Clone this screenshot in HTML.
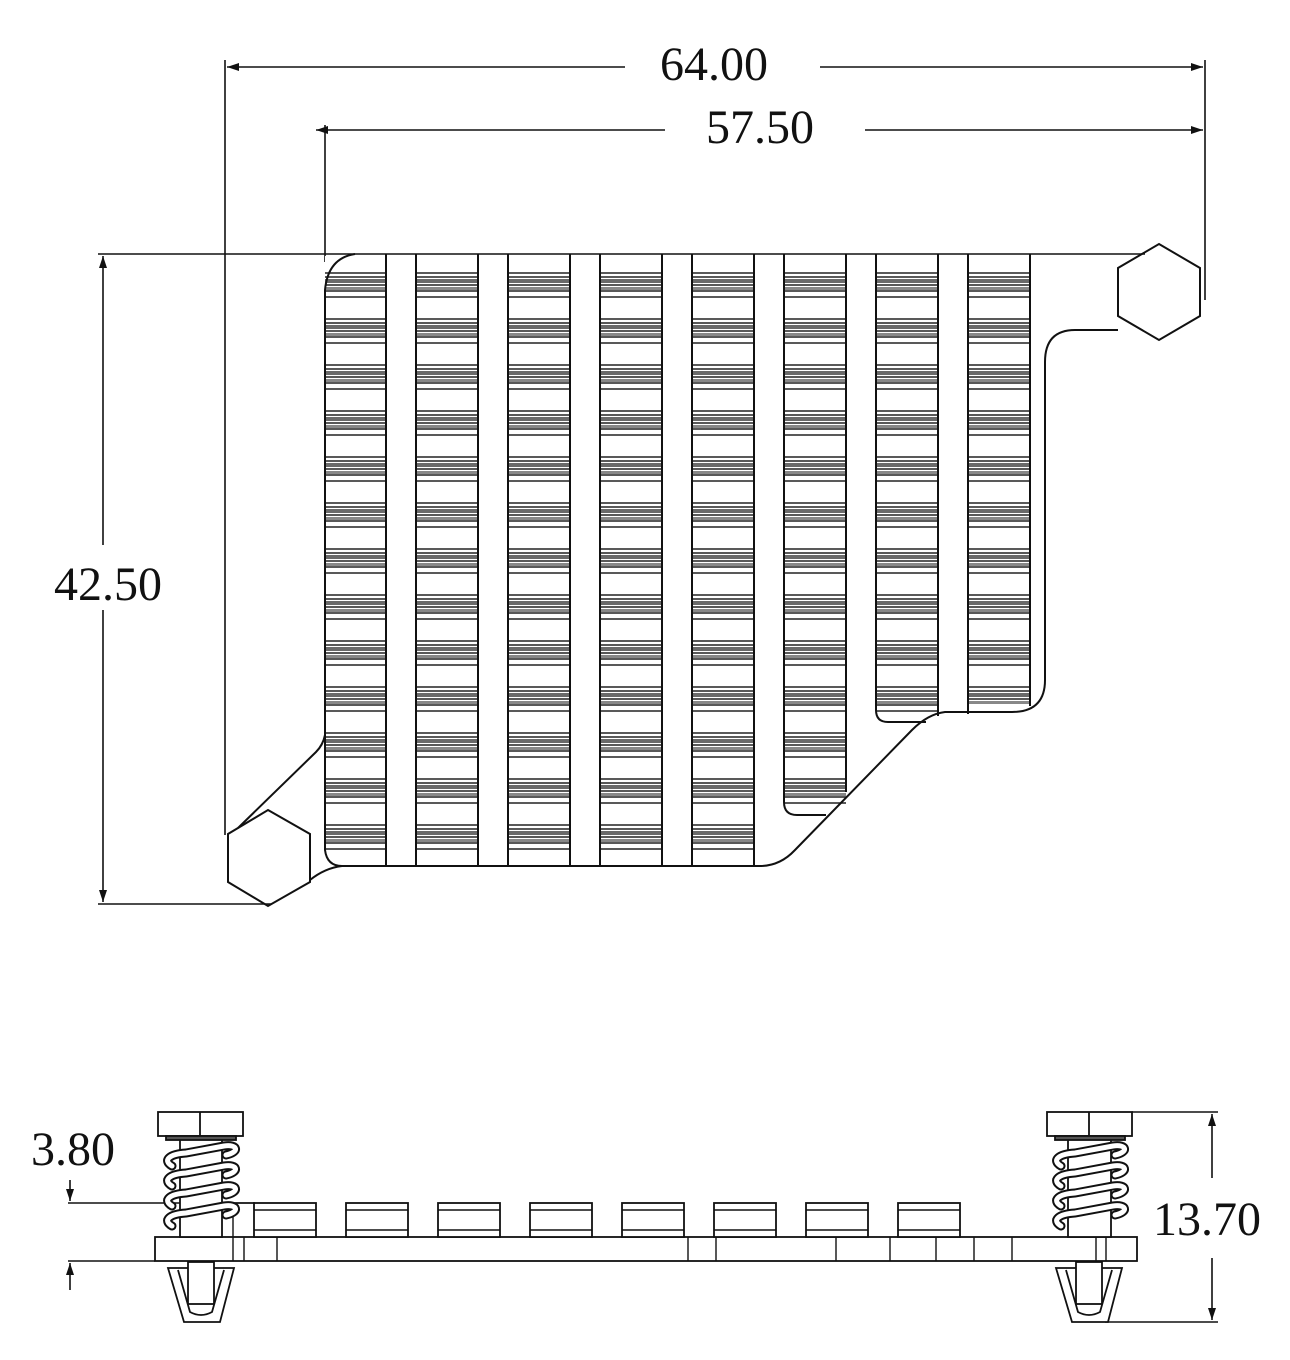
<!DOCTYPE html>
<html><head><meta charset="utf-8"><style>
html,body{margin:0;padding:0;background:#fff}
svg{display:block}
text{font-family:"Liberation Serif",serif;font-size:48px;fill:#111}
</style></head><body>
<svg width="1290" height="1360" viewBox="0 0 1290 1360" xmlns="http://www.w3.org/2000/svg">
<defs>
<pattern id="fin" patternUnits="userSpaceOnUse" x="0" y="272" width="1290" height="46">
<rect x="0" y="7" width="1290" height="4" fill="#6a6a6a"/>
<g stroke="#222" stroke-width="1.6">
<line x1="0" y1="1" x2="1290" y2="1"/>
<line x1="0" y1="5" x2="1290" y2="5"/>
<line x1="0" y1="13" x2="1290" y2="13"/>
<line x1="0" y1="19" x2="1290" y2="19"/>
<line x1="0" y1="25" x2="1290" y2="25"/>
</g>
<rect x="0" y="15" width="1290" height="3" fill="#888"/>
</pattern>
<marker id="ar" viewBox="0 0 12 8" refX="12" refY="4" markerWidth="12" markerHeight="8" orient="auto" markerUnits="userSpaceOnUse">
<path d="M0,0 L12,4 L0,8 Z" fill="#111"/>
</marker>
</defs>

<g fill="none" stroke="#111" stroke-width="1.6">
<!-- dimension lines top -->
<line x1="225" y1="60" x2="225" y2="835"/>
<line x1="1205" y1="60" x2="1205" y2="300"/>
<line x1="325" y1="125" x2="325" y2="262"/>
<line x1="625" y1="67" x2="227" y2="67" marker-end="url(#ar)"/>
<line x1="820" y1="67" x2="1203" y2="67" marker-end="url(#ar)"/>
<line x1="665" y1="130" x2="316" y2="130" marker-end="url(#ar)"/>
<line x1="865" y1="130" x2="1203" y2="130" marker-end="url(#ar)"/>
<!-- 42.50 -->
<line x1="98" y1="254" x2="1145" y2="254"/>
<line x1="98" y1="904" x2="272" y2="904"/>
<line x1="103" y1="545" x2="103" y2="256" marker-end="url(#ar)"/>
<line x1="103" y1="610" x2="103" y2="902" marker-end="url(#ar)"/>
</g>
<text x="714" y="80" text-anchor="middle">64.00</text>
<text x="760" y="143" text-anchor="middle">57.50</text>
<text x="108" y="600" text-anchor="middle">42.50</text>

<!-- fin columns fill -->
<g fill="url(#fin)">
<rect x="325" y="268" width="61" height="590"/>
<rect x="416" y="268" width="62" height="590"/>
<rect x="508" y="268" width="62" height="590"/>
<rect x="600" y="268" width="62" height="590"/>
<rect x="692" y="268" width="62" height="590"/>
<rect x="784" y="268" width="62" height="540"/>
<rect x="876" y="268" width="62" height="446"/>
<rect x="968" y="268" width="62" height="436"/>
</g>
<rect x="325" y="256" width="40" height="14" fill="#fff"/>

<g fill="none" stroke="#111" stroke-width="2">
<!-- columns -->
<path d="M355 254 Q328 258 325 290 V850 Q327 866 342 866"/>
<line x1="386" y1="254" x2="386" y2="866"/>
<line x1="416" y1="254" x2="416" y2="866"/>
<line x1="478" y1="254" x2="478" y2="866"/>
<line x1="508" y1="254" x2="508" y2="866"/>
<line x1="570" y1="254" x2="570" y2="866"/>
<line x1="600" y1="254" x2="600" y2="866"/>
<line x1="662" y1="254" x2="662" y2="866"/>
<line x1="692" y1="254" x2="692" y2="866"/>
<line x1="754" y1="254" x2="754" y2="866"/>
<path d="M784 254 V802 Q784 815 797 815 H826"/>
<line x1="846" y1="254" x2="846" y2="792"/>
<path d="M876 254 V710 Q876 722 888 722 H926"/>
<line x1="938" y1="254" x2="938" y2="716"/>
<line x1="968" y1="254" x2="968" y2="714"/>
<line x1="1030" y1="254" x2="1030" y2="706"/>
<!-- outline -->
<path d="M1118 330 H1075 Q1045 330 1045 362 V680 Q1045 712 1012 712 H945 Q928 714 912 730 L795 850 Q780 866 760 866 H342 Q325 868 310 880"/>
<path d="M325 735 Q323 745 316 752 L238 828"/>
<!-- hexagons -->
<polygon points="1159,244 1200,268 1200,316 1159,340 1118,316 1118,268"/>
<polygon points="268,810 310,834 310,882 268,906 228,882 228,834"/>
</g>

<!-- ===== bottom view ===== -->
<g fill="none" stroke="#111" stroke-width="1.6">
<line x1="68" y1="1203" x2="255" y2="1203"/>
<line x1="68" y1="1261" x2="155" y2="1261"/>
<line x1="70" y1="1180" x2="70" y2="1201" marker-end="url(#ar)"/>
<line x1="70" y1="1290" x2="70" y2="1263" marker-end="url(#ar)"/>
<line x1="1132" y1="1112" x2="1218" y2="1112"/>
<line x1="1105" y1="1322" x2="1218" y2="1322"/>
<line x1="1212" y1="1178" x2="1212" y2="1114" marker-end="url(#ar)"/>
<line x1="1212" y1="1258" x2="1212" y2="1320" marker-end="url(#ar)"/>
</g>
<text x="73" y="1165" text-anchor="middle">3.80</text>
<text x="1207" y="1235" text-anchor="middle">13.70</text>

<g fill="#fff" stroke="#111" stroke-width="1.8">
<!-- base plate -->
<rect x="155" y="1237" width="982" height="24"/>
<!-- fins -->
<g>
<rect x="254" y="1203" width="62" height="34"/>
<rect x="346" y="1203" width="62" height="34"/>
<rect x="438" y="1203" width="62" height="34"/>
<rect x="530" y="1203" width="62" height="34"/>
<rect x="622" y="1203" width="62" height="34"/>
<rect x="714" y="1203" width="62" height="34"/>
<rect x="806" y="1203" width="62" height="34"/>
<rect x="898" y="1203" width="62" height="34"/>
</g>
</g>
<g stroke="#111" stroke-width="1.4" fill="none">
<path d="M254 1210 H316 M254 1230 H316 M346 1210 H408 M346 1230 H408 M438 1210 H500 M438 1230 H500 M530 1210 H592 M530 1230 H592 M622 1210 H684 M622 1230 H684 M714 1210 H776 M714 1230 H776 M806 1210 H868 M806 1230 H868 M898 1210 H960 M898 1230 H960"/>
<path d="M233 1237 V1261 M244 1237 V1261 M277 1237 V1261 M688 1237 V1261 M716 1237 V1261 M836 1237 V1261 M890 1237 V1261 M936 1237 V1261 M974 1237 V1261 M1012 1237 V1261 M1096 1237 V1261 M1106 1237 V1261"/>
<line x1="233" y1="1203" x2="255" y2="1203"/>
<line x1="233" y1="1203" x2="233" y2="1237"/>
</g>

<!-- left bolt -->
<g stroke="#111" stroke-width="1.8" fill="#fff">
<rect x="180" y="1136" width="42" height="101"/>
<rect x="158" y="1112" width="85" height="24"/>
<line x1="200" y1="1112" x2="200" y2="1136"/>
<rect x="166" y="1136" width="70" height="4" fill="#555"/>
</g>
<g fill="none" stroke-linecap="round">
<path id="c1" d="M172 1166 C162 1160 170 1154 186 1153 L224 1146 C238 1144 240 1152 226 1155" stroke="#111" stroke-width="9"/>
<path d="M172 1166 C162 1160 170 1154 186 1153 L224 1146 C238 1144 240 1152 226 1155" stroke="#fff" stroke-width="5"/>
<path d="M172 1186 C162 1180 170 1174 186 1173 L224 1166 C238 1164 240 1172 226 1175" stroke="#111" stroke-width="9"/>
<path d="M172 1186 C162 1180 170 1174 186 1173 L224 1166 C238 1164 240 1172 226 1175" stroke="#fff" stroke-width="5"/>
<path d="M172 1206 C162 1200 170 1194 186 1193 L224 1186 C238 1184 240 1192 226 1195" stroke="#111" stroke-width="9"/>
<path d="M172 1206 C162 1200 170 1194 186 1193 L224 1186 C238 1184 240 1192 226 1195" stroke="#fff" stroke-width="5"/>
<path d="M172 1226 C162 1220 170 1214 186 1213 L224 1206 C238 1204 240 1212 226 1215" stroke="#111" stroke-width="9"/>
<path d="M172 1226 C162 1220 170 1214 186 1213 L224 1206 C238 1204 240 1212 226 1215" stroke="#fff" stroke-width="5"/>
</g>
<!-- left clip -->
<g stroke="#111" stroke-width="1.8" fill="#fff">
<path d="M168 1268 H234 L220 1322 H184 Z"/>
<path d="M178 1270 L190 1312 Q201 1318 212 1312 L224 1270" fill="none"/>
<rect x="188" y="1262" width="26" height="42"/>
</g>

<!-- right bolt -->
<g stroke="#111" stroke-width="1.8" fill="#fff">
<rect x="1068" y="1136" width="43" height="101"/>
<rect x="1047" y="1112" width="85" height="24"/>
<line x1="1089" y1="1112" x2="1089" y2="1136"/>
<rect x="1055" y="1136" width="70" height="4" fill="#555"/>
</g>
<g fill="none" stroke-linecap="round">
<path d="M1061 1166 C1051 1160 1059 1154 1075 1153 L1113 1146 C1127 1144 1129 1152 1115 1155" stroke="#111" stroke-width="9"/>
<path d="M1061 1166 C1051 1160 1059 1154 1075 1153 L1113 1146 C1127 1144 1129 1152 1115 1155" stroke="#fff" stroke-width="5"/>
<path d="M1061 1186 C1051 1180 1059 1174 1075 1173 L1113 1166 C1127 1164 1129 1172 1115 1175" stroke="#111" stroke-width="9"/>
<path d="M1061 1186 C1051 1180 1059 1174 1075 1173 L1113 1166 C1127 1164 1129 1172 1115 1175" stroke="#fff" stroke-width="5"/>
<path d="M1061 1206 C1051 1200 1059 1194 1075 1193 L1113 1186 C1127 1184 1129 1192 1115 1195" stroke="#111" stroke-width="9"/>
<path d="M1061 1206 C1051 1200 1059 1194 1075 1193 L1113 1186 C1127 1184 1129 1192 1115 1195" stroke="#fff" stroke-width="5"/>
<path d="M1061 1226 C1051 1220 1059 1214 1075 1213 L1113 1206 C1127 1204 1129 1212 1115 1215" stroke="#111" stroke-width="9"/>
<path d="M1061 1226 C1051 1220 1059 1214 1075 1213 L1113 1206 C1127 1204 1129 1212 1115 1215" stroke="#fff" stroke-width="5"/>
</g>
<g stroke="#111" stroke-width="1.8" fill="#fff">
<path d="M1056 1268 H1122 L1108 1322 H1072 Z"/>
<path d="M1066 1270 L1078 1312 Q1089 1318 1100 1312 L1112 1270" fill="none"/>
<rect x="1076" y="1262" width="26" height="42"/>
</g>
</svg>
</body></html>
